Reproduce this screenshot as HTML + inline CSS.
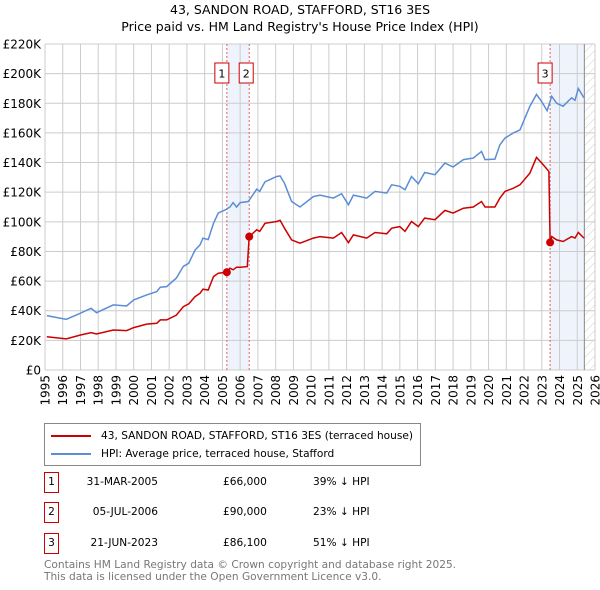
<!DOCTYPE html>
<html><head><meta charset="utf-8"><style>
body{margin:0;background:#fff;font-family:"Liberation Sans","DejaVu Sans",sans-serif;}
#wrap{position:relative;width:600px;height:590px;overflow:hidden;}
</style></head><body>
<div id="wrap">
<svg id="chart" width="600" height="590" xmlns="http://www.w3.org/2000/svg" font-family="DejaVu Sans, Liberation Sans, sans-serif">
<defs><pattern id="hatch" width="6" height="6" patternUnits="userSpaceOnUse" patternTransform="rotate(45)"><line x1="0" y1="0" x2="0" y2="6" stroke="#ccc" stroke-width="1"/></pattern></defs>
<text x="300" y="14" text-anchor="middle" font-size="12.5">43, SANDON ROAD, STAFFORD, ST16 3ES</text>
<text x="300" y="31" text-anchor="middle" font-size="12.5">Price paid vs. HM Land Registry's House Price Index (HPI)</text>
<g id="plot"></g>
</svg>
<div style="position:absolute;left:44px;top:423px;width:377px;height:43px;border:1px solid #888;box-sizing:border-box;font-size:10.6px;font-family:'DejaVu Sans','Liberation Sans',sans-serif;">
 <div style="position:absolute;left:6px;top:6px;white-space:nowrap"><span style="display:inline-block;width:40px;height:2px;background:#cc0000;vertical-align:middle;margin-right:10px"></span>43, SANDON ROAD, STAFFORD, ST16 3ES (terraced house)</div>
 <div style="position:absolute;left:6px;top:24px;white-space:nowrap"><span style="display:inline-block;width:40px;height:2px;background:#5b8dd6;vertical-align:middle;margin-right:10px"></span>HPI: Average price, terraced house, Stafford</div>
</div>
<div id="table" style="font-size:10.6px;font-family:'DejaVu Sans','Liberation Sans',sans-serif;"></div>
<div style="position:absolute;left:44px;top:559px;font-size:10.6px;color:#777;line-height:12px;font-family:'DejaVu Sans','Liberation Sans',sans-serif;">Contains HM Land Registry data © Crown copyright and database right 2025.<br>This data is licensed under the Open Government Licence v3.0.</div>
</div>
<script>
const yTicks=[0,20,40,60,80,100,120,140,160,180,200,220];
const xYears=[1995,1996,1997,1998,1999,2000,2001,2002,2003,2004,2005,2006,2007,2008,2009,2010,2011,2012,2013,2014,2015,2016,2017,2018,2019,2020,2021,2022,2023,2024,2025,2026];
const hpiYears=[1995.1,1996.2,1997.0,1997.6,1997.9,1998.85,1999.6,2000.0,2000.73,2001.3,2001.5,2001.86,2002.4,2002.8,2003.1,2003.46,2003.74,2003.9,2004.2,2004.5,2004.77,2005.15,2005.43,2005.6,2005.8,2006.0,2006.46,2006.93,2007.1,2007.4,2008.06,2008.25,2008.5,2008.9,2009.37,2010.12,2010.5,2011.25,2011.72,2012.1,2012.38,2013.13,2013.6,2014.26,2014.54,2015.0,2015.29,2015.66,2016.04,2016.4,2016.98,2017.54,2018.0,2018.58,2019.14,2019.6,2019.8,2020.36,2020.64,2020.93,2021.4,2021.77,2022.33,2022.7,2023.0,2023.3,2023.56,2023.84,2024.2,2024.68,2024.87,2025.06,2025.38];
const hpiValues=[36.7,34.2,38.3,41.7,38.7,43.9,43.2,47.3,50.7,52.9,55.9,56.3,62,70,72,81,84.5,89,88,99,106,108,110,113,110,113,113.7,122,120.5,127,130.6,131,126,113.7,110,117,118,116,119,111.5,118,116,120.5,119.4,125,124,121.6,130.6,125.7,133.3,131.8,139.6,137,142,143,147.5,142,142.3,152,156.5,160,162,178,186,181,175,184.7,180,178,183.6,182,190,183.6];
const redYears=[1995.1,1996.2,1997.0,1997.6,1997.9,1998.85,1999.6,2000.0,2000.73,2001.3,2001.5,2001.86,2002.4,2002.8,2003.1,2003.46,2003.74,2003.9,2004.2,2004.5,2004.77,2005.25,2005.43,2005.6,2005.8,2006.0,2006.4,2006.51,2006.93,2007.1,2007.4,2008.06,2008.25,2008.5,2008.9,2009.37,2010.12,2010.5,2011.25,2011.72,2012.1,2012.38,2013.13,2013.6,2014.26,2014.54,2015.0,2015.29,2015.66,2016.04,2016.4,2016.98,2017.54,2018.0,2018.58,2019.14,2019.6,2019.8,2020.36,2020.64,2020.93,2021.4,2021.77,2022.33,2022.7,2023.0,2023.4,2023.47,2023.56,2023.84,2024.2,2024.68,2024.87,2025.06,2025.38];
const redValues=[22.5,21,23.6,25.2,24.3,27,26.6,28.6,31,31.5,33.8,33.8,37,42.8,44.6,49.5,51.8,54.5,54,63,65.3,66,68.7,67.6,69.4,69.4,69.8,90,94.6,93.5,99,100.2,101,95.7,87.8,85.6,89,90,89,92.8,86,91.2,89,92.8,91.9,95.7,96.8,93.5,100.2,96.8,102.5,101.4,107.7,105.9,109.2,110,113.7,110,110,116,120.5,122.7,125,132.9,143.5,139.6,134,86.1,90,87.8,86.7,90,89,92.8,89];
const saleLabels=["1","2","3"];
const saleYears=[2005.25,2006.51,2023.47];
const salePrices=[66,90,86.1];
const saleDates=["31-MAR-2005","05-JUL-2006","21-JUN-2023"];
const salePriceText=["£66,000","£90,000","£86,100"];
const saleHpiText=["39% ↓ HPI","23% ↓ HPI","51% ↓ HPI"];
const dataEnd=2025.4;

const L=45,R=595,T=44,B=370;
const xs=y=>L+(y-1995)*(R-L)/31;
const ys=v=>B-v*(B-T)/220;
const NS="http://www.w3.org/2000/svg";
const g=document.getElementById('plot');
function mk(tag,attrs,parent){const e=document.createElementNS(NS,tag);for(const k in attrs)e.setAttribute(k,attrs[k]);(parent||g).appendChild(e);return e;}
let s1=mk('rect',{x:xs(saleYears[0]),y:T,width:xs(saleYears[1])-xs(saleYears[0]),height:B-T,fill:'#eef3fc'});


let s2=mk('rect',{x:xs(saleYears[2]),y:T,width:xs(dataEnd)-xs(saleYears[2]),height:B-T,fill:'#eef3fc'});


let h=mk('rect',{x:xs(dataEnd),y:T,width:R-xs(dataEnd),height:B-T,fill:'url(#hatch)'});


yTicks.forEach(v=>{
 let l=mk('line',{x1:L,x2:R,y1:ys(v),y2:ys(v),stroke:'#ccc','stroke-width':1});
 
 
 let t=mk('text',{x:L-4,y:ys(v)+4.5,'text-anchor':'end','font-size':12});
 t.textContent='£'+(v===0?'0':v+'K');
 
 
});
xYears.forEach(yr=>{
 let l=mk('line',{x1:xs(yr),x2:xs(yr),y1:T,y2:B,stroke:'#ccc','stroke-width':1});
 
 
 let t=mk('text',{x:0,y:0,'text-anchor':'end','font-size':12,transform:`translate(${xs(yr)+4.5},${B+5}) rotate(-90)`});
 t.textContent=yr;
 
 
});
let dl=mk('line',{x1:xs(dataEnd),x2:xs(dataEnd),y1:T,y2:B,stroke:'#888','stroke-width':1});


saleYears.forEach((yr,i)=>{
 let l=mk('line',{x1:xs(yr),x2:xs(yr),y1:T,y2:B,stroke:'#e06060','stroke-width':1,'stroke-dasharray':'2,2'});
 
 
});
const pts=(xa,va)=>xa.map((x,i)=>xs(x).toFixed(1)+','+ys(va[i]).toFixed(1)).join(' ');
let hp=mk('polyline',{points:pts(hpiYears,hpiValues),fill:'none',stroke:'#5b8dd6','stroke-width':1.5});


let rp=mk('polyline',{points:pts(redYears,redValues),fill:'none',stroke:'#cc0000','stroke-width':1.5});


const boxOff=[-5,-3,-5];
saleYears.forEach((yr,i)=>{
 let c=mk('circle',{cx:xs(yr),cy:ys(salePrices[i]),r:4,fill:'#cc0000'});
 
 
 const bx=xs(yr)+boxOff[i];
 let r=mk('rect',{x:bx-7,y:63,width:14,height:20,fill:'#fff',stroke:'#cc0000','stroke-width':1});
 
 
 let t=mk('text',{x:bx,y:77.5,'text-anchor':'middle','font-size':11});
 t.textContent=saleLabels[i];
 
 
});
const tb=document.getElementById('table');
const rowY=[472,502,533];
saleLabels.forEach((lab,i)=>{
 const row=document.createElement('div');
 
 
 row.style.cssText=`position:absolute;left:0;top:${rowY[i]}px;width:600px;height:21px;`;
 row.innerHTML=`<span style="position:absolute;left:44px;top:0;width:13px;height:19px;border:1px solid #cc0000;text-align:center;line-height:19px">${lab}</span>`+
 `<span style="position:absolute;right:${600-158}px;top:4px">${saleDates[i]}</span>`+
 `<span style="position:absolute;left:223px;top:4px">${salePriceText[i]}</span>`+
 `<span style="position:absolute;left:313px;top:4px">${saleHpiText[i]}</span>`;
 tb.appendChild(row);
});
</script>
</body></html>
